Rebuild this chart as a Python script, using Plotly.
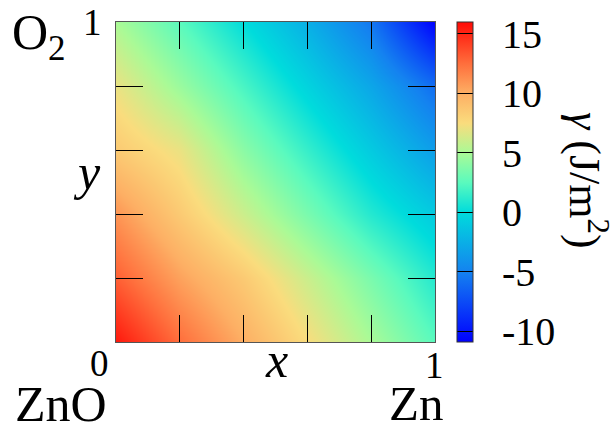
import plotly.graph_objects as go

# grid coordinates (composition fractions)
x_vals = [0.0, 0.2, 0.4, 0.6, 0.8, 1.0]
y_vals = [0.0, 0.2, 0.4, 0.6, 0.8, 1.0]

# surface energy gamma (J/m^2), rows = y, columns = x
gamma = [
    [15.5, 12.5, 10.0, 7.5, 5.0, 2.5],    # y = 0.0
    [13.0, 10.5, 8.5, 6.0, 3.5, 1.0],     # y = 0.2
    [11.0, 8.5, 6.0, 3.5, 1.0, -1.0],     # y = 0.4
    [8.5, 7.0, 4.0, 1.5, -1.0, -3.5],     # y = 0.6
    [7.0, 4.5, 2.0, -0.5, -3.0, -6.0],    # y = 0.8
    [5.0, 2.5, 0.0, -2.5, -5.5, -10.9],   # y = 1.0
]

zmin, zmax = -10.9, 16.0
cbar_ticks = [-10, -5, 0, 5, 10, 15]
minor_ticks = [0.2, 0.4, 0.6, 0.8]

colorscale = [
    [0.0, "rgb(0,0,255)"],
    [0.219, "rgb(20,130,240)"],
    [0.405, "rgb(0,220,220)"],
    [0.498, "rgb(90,250,190)"],
    [0.591, "rgb(170,250,150)"],
    [0.684, "rgb(250,220,125)"],
    [0.777, "rgb(253,175,100)"],
    [0.870, "rgb(255,110,60)"],
    [1.0, "rgb(255,10,5)"],
]

FONT = "Liberation Serif"

fig = go.Figure(go.Heatmap(
    x=x_vals, y=y_vals, z=gamma,
    zmin=zmin, zmax=zmax, zsmooth="best",
    colorscale=colorscale,
    colorbar=dict(
        x=1.069, xanchor="left", xpad=0, y=0.5, yanchor="middle", len=1.0, ypad=0,
        thickness=16, outlinewidth=1, outlinecolor="#333",
        tickvals=cbar_ticks,
        ticktext=["\u2002" + str(v) for v in cbar_ticks],
        ticks="inside", ticklen=16, tickcolor="black", tickwidth=1,
        tickfont=dict(family=FONT, size=40, color="black"),
    ),
))

axis_common = dict(
    range=[0, 1], tickvals=minor_ticks, showticklabels=False,
    ticks="inside", ticklen=27, tickcolor="black", tickwidth=1,
    mirror="ticks", showline=True, linecolor="#555", linewidth=1,
    showgrid=False, zeroline=False,
)
fig.update_xaxes(**axis_common)
fig.update_yaxes(**axis_common)

def ann(text, x, y, size, xanchor="center", yanchor="middle", **kw):
    fig.add_annotation(text=text, x=x, y=y, xref="paper", yref="paper",
                       xanchor=xanchor, yanchor=yanchor,
                       showarrow=False, font=dict(family=FONT, size=size, color="black"), **kw)

ann("0", -0.053, -0.066, 37)
ann("1", 0.997, -0.074, 37)
ann("1", -0.075, 0.997, 37)
ann("<i>x</i>", 0.502, -0.055, 50)
ann("<i>y</i>", -0.091, 0.53, 50)
ann("ZnO", -0.172, -0.194, 50)
ann("Zn", 0.94, -0.192, 49)
ann("O<sub>2</sub>", -0.332, 0.955, 50, xanchor="left")
ann("<i>γ</i> (J/m<sup>2</sup>)", 1.48, 0.506, 44, textangle=90)

fig.update_layout(
    width=614, height=432,
    margin=dict(l=116, r=179, t=22, b=90),
    paper_bgcolor="white", plot_bgcolor="white",
    showlegend=False,
)

fig.write_html("out.html")
